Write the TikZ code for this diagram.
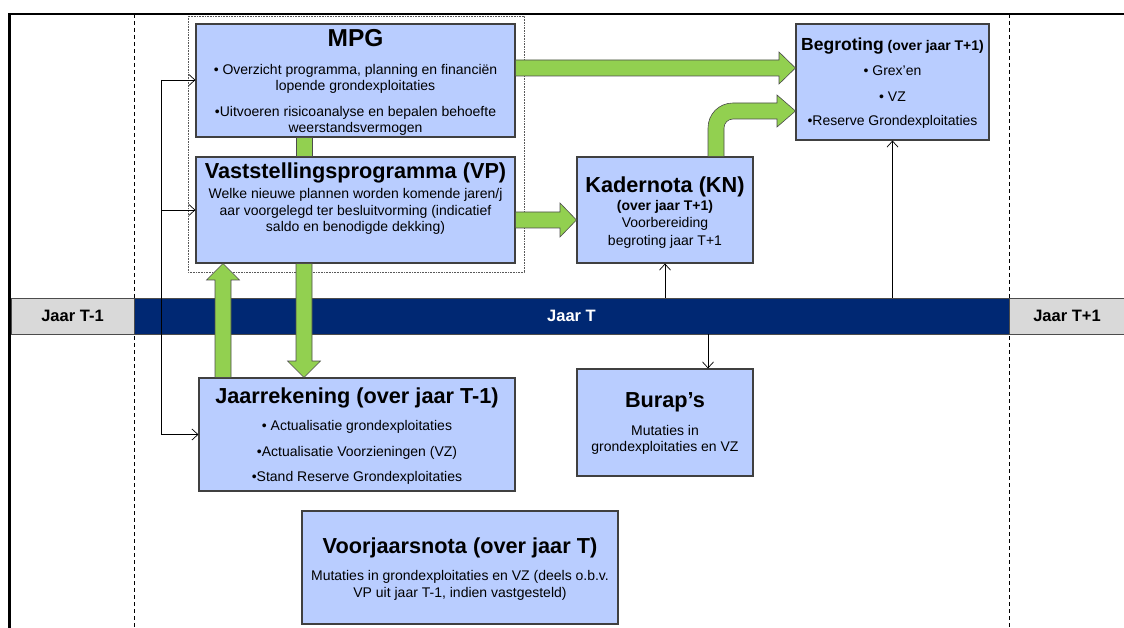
\documentclass[tikz,border=0pt]{standalone}
\usepackage{fontspec}
\setmainfont{Liberation Sans}
\usetikzlibrary{arrows.meta}
\definecolor{vakblauw}{RGB}{185,205,255}
\definecolor{jaarblauw}{RGB}{0,40,115}
\definecolor{jaargrijs}{RGB}{217,217,217}
\definecolor{pijlgroen}{RGB}{146,208,80}
\newcommand{\kop}{\fontsize{21.7}{24}\selectfont\bfseries}
\newcommand{\tekst}{\fontsize{14}{16.5}\selectfont}

\begin{document}
\begin{tikzpicture}[x=1pt, y=-1pt,
  vak/.style={draw=black!75, fill=vakblauw, line width=1.1pt, inner sep=0pt},
  txt/.style={anchor=north, inner sep=0pt, align=center, font=\tekst},
  jaar/.style={draw=black!70, line width=0.8pt, minimum height=36pt, inner sep=0pt,
               font=\fontsize{16.5}{18}\selectfont\bfseries},
  groen/.style={fill=pijlgroen, draw=black!70, line width=0.6pt},
  lijn/.style={line width=0.7pt, -{Straight Barb[length=6pt,width=11pt]}}]
  \useasboundingbox (0,0) rectangle (1124,628);

  % jaargrenzen
  \draw[dashed, dash pattern=on 4pt off 3pt, line width=0.8pt] (134,14) -- (134,628);
  \draw[dashed, dash pattern=on 4pt off 3pt, line width=0.8pt] (1009,14) -- (1009,628);
  \draw[densely dotted, black!65, line width=0.6pt] (188,16) rectangle (524,272);

  % tijdbalk
  \node[jaar, fill=jaargrijs, minimum width=123pt] (jtmin) at (72.5,316) {Jaar T-1};
  \node[jaar, fill=jaarblauw, text=white, minimum width=875pt] (jt) at (571.5,316) {Jaar T};
  \node[jaar, fill=jaargrijs, minimum width=116pt] (jtplus) at (1067,316) {Jaar T+1};

  % vakken
  \node[vak, minimum width=319pt, minimum height=113pt] (mpg) at (355.5,80.5) {};
  \node[vak, minimum width=319pt, minimum height=106pt] (vp) at (355.5,210) {};
  \node[vak, minimum width=316pt, minimum height=113pt] (jr) at (357,434.5) {};
  \node[vak, minimum width=316pt, minimum height=113pt] (vjn) at (460,567.5) {};
  \node[vak, minimum width=176pt, minimum height=106pt] (kn) at (665,210) {};
  \node[vak, minimum width=176pt, minimum height=107pt] (burap) at (665,422.5) {};
  \node[vak, minimum width=193pt, minimum height=116pt] (begr) at (892.5,82) {};

  \node[txt] (mpg-t) at ([yshift=-6.2pt]mpg.north)
    {{\fontsize{24.5}{26}\selectfont\bfseries MPG}\\[11pt]
     • Overzicht programma, planning en financiën\\ lopende grondexploitaties\\[9pt]
     •Uitvoeren risicoanalyse en bepalen behoefte\\ weerstandsvermogen};
  \node[txt] (vp-t) at ([yshift=-6.2pt]vp.north)
    {{\kop Vaststellingsprogramma (VP)}\\[3.5pt]
     Welke nieuwe plannen worden komende jaren/j\\
     aar voorgelegd ter besluitvorming (indicatief\\ saldo en benodigde dekking)};
  \node[txt] (jr-t) at ([yshift=-10.2pt]jr.north)
    {{\kop Jaarrekening (over jaar T-1)}\\[10.5pt]
     • Actualisatie grondexploitaties\\[9.5pt]
     •Actualisatie Voorzieningen (VZ)\\[8pt]
     •Stand Reserve Grondexploitaties};
  \node[txt] (vjn-t) at ([yshift=-27.2pt]vjn.north)
    {{\kop Voorjaarsnota (over jaar T)}\\[10.5pt]
     Mutaties in grondexploitaties en VZ (deels o.b.v.\\ VP uit jaar T-1, indien vastgesteld)};
  \node[txt] (kn-t) at ([yshift=-20.2pt]kn.north)
    {{\kop Kadernota (KN)}\\[1.5pt] \textbf{(over jaar T+1)}\\ Voorbereiding\\[1.5pt] begroting jaar T+1};
  \node[txt] (burap-t) at ([yshift=-23.5pt]burap.north)
    {{\kop Burap’s}\\[11.5pt] Mutaties in\\ grondexploitaties en VZ};
  \node[txt] (begr-t) at ([yshift=-14.1pt]begr.north)
    {{\fontsize{17.5}{20}\selectfont\bfseries Begroting} \textbf{(over jaar T+1)}\\[9pt]
     • Grex’en\\[9.5pt] • VZ\\[7.5pt] •Reserve Grondexploitaties};

  % groene pijlen
  \draw[groen] (mpg.south -| 296,0) rectangle (vp.north -| 312,0);
  \draw[groen] (mpg.east |- 0,60) -- (779,60) -- (779,52) -- (begr.west |- 0,68)
    -- (779,84) -- (779,76) -- (mpg.east |- 0,76) -- cycle;
  \draw[groen] (vp.east |- 0,212) -- (560,212) -- (560,203) -- (kn.west |- 0,220)
    -- (560,237) -- (560,228) -- (vp.east |- 0,228) -- cycle;
  \draw[groen] (kn.north -| 708,0) -- (708,128) .. controls (708,114.2) and (718.8,103) .. (733,103)
    -- (777,103) -- (777,95) -- (begr.west |- 0,111) -- (777,127) -- (777,119)
    -- (733,119) .. controls (728,119) and (724,123) .. (724,128) -- (kn.north -| 724,0) -- cycle;
  \draw[groen] (vp.south -| 296,0) -- (296,361) -- (287.5,361) -- (jr.north -| 304,0)
    -- (320.5,361) -- (312,361) -- (vp.south -| 312,0) -- cycle;
  \draw[groen] (jr.north -| 215,0) -- (215,280) -- (206.5,280) -- (vp.south -| 223,0)
    -- (239.5,280) -- (231,280) -- (jr.north -| 231,0) -- cycle;

  % dunne pijlen
  \coordinate (fd1) at (161,80);
  \coordinate (fd2) at (161,210);
  \coordinate (fd3) at (161,434.5);
  \draw[line width=0.7pt] (fd1) -- (fd3);
  \draw[lijn] (fd1) -- (mpg.west |- fd1);
  \draw[lijn] (fd2) -- (vp.west);
  \draw[lijn] (fd3) -- (jr.west);
  \draw[lijn] (jt.north -| kn.south) -- (kn.south);
  \draw[lijn] (jt.north -| begr.south) -- (begr.south);
  \draw[lijn] (jt.south -| 708,0) -- (burap.north -| 708,0);

  % kader
  \draw[line width=2.5pt] (9.7,640) -- (9.7,13.8) -- (1130,13.8);
\end{tikzpicture}
\end{document}
